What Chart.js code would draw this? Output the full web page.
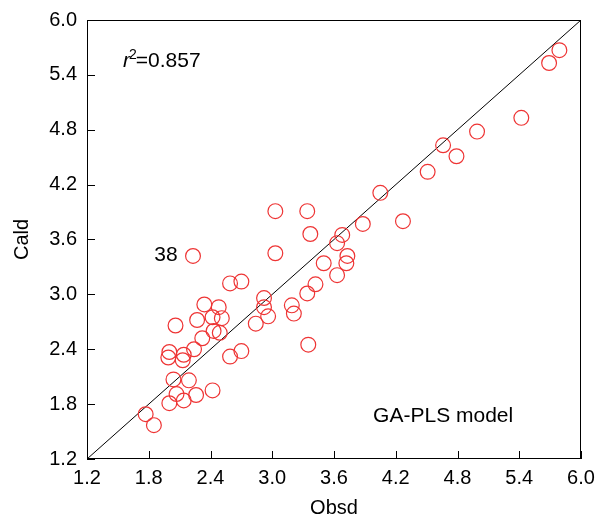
<!DOCTYPE html>
<html>
<head>
<meta charset="utf-8">
<script src="https://cdn.jsdelivr.net/npm/chart.js@4/dist/chart.umd.min.js"></script>
<style>
  html, body { margin: 0; padding: 0; background: #fff; }
  #wrap { width: 597px; height: 518px; }
</style>
</head>
<body>
<div id="wrap"><canvas id="chart" width="597" height="518"></canvas></div>
<script>
// DATA
const obsd = [5.79, 5.69, 5.42, 4.99, 4.66, 4.79, 4.51, 4.05, 4.27, 3.88,
  3.03, 3.34, 3.37, 3.68, 3.63, 3.03, 2.23, 3.73, 3.50, 3.72,
  3.63, 3.42, 3.34, 2.59, 2.70, 2.92, 2.92, 2.96, 2.84, 3.19,
  3.21, 3.35, 2.34, 2.48, 2.51, 2.42, 2.27, 2.06, 2.43, 2.49,
  2.32, 2.24, 2.14, 2.13, 2.00, 1.99, 2.59, 2.70, 2.04, 2.19,
  2.07, 2.14, 2.26, 2.42, 2.00, 1.77, 1.85];
const cald = [5.67, 5.53, 4.93, 4.78, 4.63, 4.51, 4.34, 4.11, 3.80, 3.77,
  3.91, 3.91, 3.66, 3.65, 3.56, 3.45, 3.42, 3.42, 3.34, 3.34,
  3.21, 3.11, 3.01, 3.12, 3.14, 2.96, 2.86, 2.76, 2.68, 2.88,
  2.79, 2.45, 2.89, 2.86, 2.74, 2.75, 2.72, 2.66, 2.60, 2.58,
  2.52, 2.40, 2.34, 2.28, 2.37, 2.31, 2.32, 2.38, 2.07, 2.06,
  1.91, 1.84, 1.90, 1.95, 1.81, 1.69, 1.57];
const xTicks = [1.2, 1.8, 2.4, 3.0, 3.6, 4.2, 4.8, 5.4, 6.0];
const yTicks = [1.2, 1.8, 2.4, 3.0, 3.6, 4.2, 4.8, 5.4, 6.0];
const idealLine = [1.2, 6.0];

const FONT = "'Liberation Sans', Arial, Helvetica, sans-serif";
const RED = 'rgb(238, 52, 52)';

const points = obsd.map((v, i) => ({ x: v, y: cald[i] }));

// inward ticks, frame and the text notes
const frame = {
  id: 'frame',
  afterDraw(chart) {
    const { ctx, chartArea: a, scales: { x, y } } = chart;
    ctx.save();
    ctx.strokeStyle = '#000';
    ctx.lineWidth = 1;
    ctx.strokeRect(a.left + 0.5, a.top + 0.5, a.right - a.left - 1, a.bottom - a.top - 1);
    ctx.beginPath();
    x.ticks.forEach(t => {
      const px = Math.round(x.getPixelForValue(t.value)) + 0.5;
      ctx.moveTo(px, a.bottom);
      ctx.lineTo(px, a.bottom - 8);
    });
    y.ticks.forEach(t => {
      const py = Math.round(y.getPixelForValue(t.value)) + 0.5;
      ctx.moveTo(a.left, py);
      ctx.lineTo(a.left + 8, py);
    });
    ctx.stroke();

    ctx.fillStyle = '#000';
    ctx.textBaseline = 'alphabetic';
    // r2 note
    let px = x.getPixelForValue(1.55), py = y.getPixelForValue(5.49);
    ctx.font = 'italic 21px ' + FONT;
    ctx.fillText('r', px, py);
    px += ctx.measureText('r').width - 1;
    ctx.font = '14px ' + FONT;
    ctx.fillText('2', px, py - 8);
    px += ctx.measureText('2').width - 1;
    ctx.font = '21px ' + FONT;
    ctx.fillText('=0.857', px, py);
    // point label
    ctx.textAlign = 'right';
    ctx.fillText('38', x.getPixelForValue(2.08), y.getPixelForValue(3.36));
    ctx.textAlign = 'left';
    ctx.fillText('GA-PLS model', x.getPixelForValue(3.98), y.getPixelForValue(1.61));
    ctx.restore();
  }
};

new Chart(document.getElementById('chart'), {
  type: 'scatter',
  data: {
    datasets: [
      {
        data: points,
        pointRadius: 7.4,
        pointHoverRadius: 7.4,
        pointBorderWidth: 1.2,
        pointBackgroundColor: 'rgba(0,0,0,0)',
        pointBorderColor: RED
      },
      {
        type: 'line',
        data: idealLine.map(v => ({ x: v, y: v })),
        borderColor: '#000',
        borderWidth: 1,
        pointRadius: 0,
        fill: false
      }
    ]
  },
  options: {
    responsive: false,
    animation: false,
    events: [],
    layout: { padding: { left: 0, top: 20, right: 16, bottom: 0 } },
    plugins: { legend: { display: false }, tooltip: { enabled: false } },
    scales: {
      x: {
        type: 'linear',
        min: 1.2,
        max: 6.0,
        afterBuildTicks: s => { s.ticks = xTicks.map(v => ({ value: v })); },
        afterFit: s => { s.height = 59; s.paddingLeft = 0; s.paddingRight = 0; },
        grid: { drawOnChartArea: false, drawTicks: false },
        border: { display: false },
        ticks: {
          padding: 7,
          color: '#000',
          font: { family: FONT, size: 20 },
          callback: v => v.toFixed(1),
          maxRotation: 0
        },
        title: {
          display: true,
          text: 'Obsd',
          color: '#000',
          font: { family: FONT, size: 20, lineHeight: 1 },
          padding: { top: 0, bottom: 0 }
        }
      },
      y: {
        type: 'linear',
        min: 1.2,
        max: 6.0,
        afterBuildTicks: s => { s.ticks = yTicks.map(v => ({ value: v })); },
        afterFit: s => { s.width = 87; s.paddingTop = 0; s.paddingBottom = 0; },
        grid: { drawOnChartArea: false, drawTicks: false },
        border: { display: false },
        ticks: {
          padding: 10,
          color: '#000',
          font: { family: FONT, size: 20 },
          callback: v => v.toFixed(1)
        },
        title: {
          display: true,
          text: 'Cald',
          color: '#000',
          font: { family: FONT, size: 20, lineHeight: 1 },
          padding: { top: 12, bottom: 0 }
        }
      }
    }
  },
  plugins: [frame]
});
</script>
</body>
</html>
